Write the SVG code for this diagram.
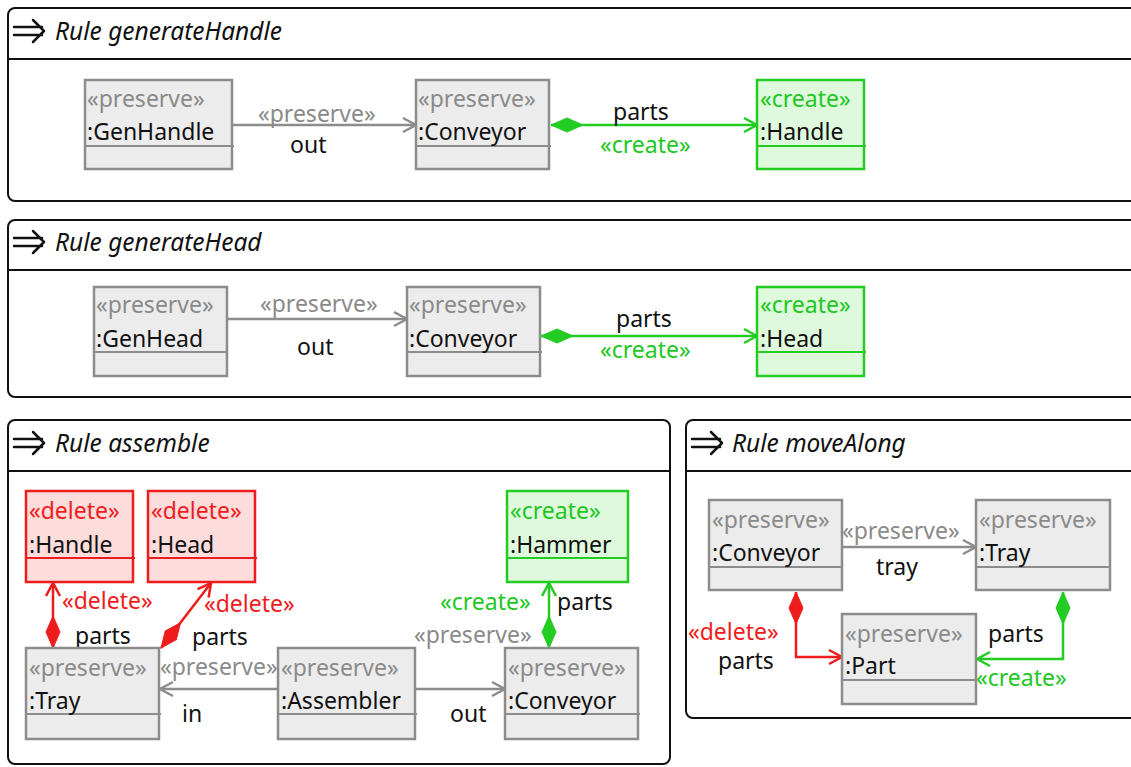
<svg xmlns="http://www.w3.org/2000/svg" width="1131" height="767" viewBox="0 0 1131 767">
<defs>
<style>
text{font-family:"Noto Sans","Open Sans","DejaVu Sans",sans-serif;font-size:23px;}
.title{font-style:italic;font-size:24.5px;fill:#111;}
.frame{fill:#fff;stroke:#111;stroke-width:2;}
.hdr{stroke:#111;stroke-width:2;}
.icon{fill:none;stroke:#111;stroke-width:2.5;stroke-linecap:round;stroke-linejoin:round;}
.pres rect{fill:#ececec;stroke:#8c8c8c;stroke-width:2.5;}
.pres line{stroke:#8c8c8c;stroke-width:2;}
.cre rect{fill:#dff9dd;stroke:#22cc22;stroke-width:2.5;}
.cre line{stroke:#22cc22;stroke-width:2;}
.del rect{fill:#fddcdc;stroke:#ee1c1c;stroke-width:2.5;}
.del line{stroke:#ee1c1c;stroke-width:2;}
.sg{fill:#8a8a8a;}
.sc{fill:#1ec81e;}
.sd{fill:#f01c1c;}
.nm{fill:#111;}
.eg{fill:none;stroke:#8c8c8c;stroke-width:2.5;marker-end:url(#agray);}
.ec{fill:none;stroke:#22cc22;stroke-width:2.5;marker-end:url(#agreen);marker-start:url(#dgreen);}
.ed{fill:none;stroke:#ee1c1c;stroke-width:2.5;marker-end:url(#ared);marker-start:url(#dred);}
</style>
<marker id="agray" markerUnits="userSpaceOnUse" markerWidth="20" markerHeight="20" viewBox="-16 -10 20 20" refX="0" refY="0" orient="auto"><path d="M-13,-7 L0,0 L-13,7" fill="none" stroke="#8c8c8c" stroke-width="2.5"/></marker>
<marker id="agreen" markerUnits="userSpaceOnUse" markerWidth="20" markerHeight="20" viewBox="-16 -10 20 20" refX="0" refY="0" orient="auto"><path d="M-13,-7 L0,0 L-13,7" fill="none" stroke="#22cc22" stroke-width="2.5"/></marker>
<marker id="ared" markerUnits="userSpaceOnUse" markerWidth="20" markerHeight="20" viewBox="-16 -10 20 20" refX="0" refY="0" orient="auto"><path d="M-13,-7 L0,0 L-13,7" fill="none" stroke="#ee1c1c" stroke-width="2.5"/></marker>
<marker id="dgreen" markerUnits="userSpaceOnUse" markerWidth="36" markerHeight="20" viewBox="-2 -10 36 20" refX="0" refY="0" orient="auto"><path d="M0,0 L16,-7 L32,0 L16,7 Z" fill="#22cc22" stroke="#22cc22" stroke-width="1"/></marker>
<marker id="dred" markerUnits="userSpaceOnUse" markerWidth="36" markerHeight="20" viewBox="-2 -10 36 20" refX="0" refY="0" orient="auto"><path d="M0,0 L16,-7 L32,0 L16,7 Z" fill="#ee1c1c" stroke="#ee1c1c" stroke-width="1"/></marker>
</defs>
<rect width="1131" height="767" fill="#fff"/>

<!-- Frames -->
<g id="frame-generateHandle">
<rect class="frame" x="8" y="8" width="1135" height="193" rx="7"/>
<line class="hdr" x1="8" y1="59" x2="1140" y2="59"/>
<path class="icon" d="M14,27 H42 M14,35 H42 M33,20 L44,31 L33,42"/>
<text class="title" x="55" y="40">Rule generateHandle</text>
</g>
<g id="frame-generateHead">
<rect class="frame" x="8" y="220" width="1135" height="177" rx="7"/>
<line class="hdr" x1="8" y1="270" x2="1140" y2="270"/>
<path class="icon" d="M14,238 H42 M14,246 H42 M33,231 L44,242 L33,253"/>
<text class="title" x="55" y="251">Rule generateHead</text>
</g>
<g id="frame-assemble">
<rect class="frame" x="8" y="420" width="662" height="344" rx="7"/>
<line class="hdr" x1="8" y1="471" x2="670" y2="471"/>
<path class="icon" d="M14,439 H42 M14,447 H42 M33,432 L44,443 L33,454"/>
<text class="title" x="55" y="452">Rule assemble</text>
</g>
<g id="frame-moveAlong">
<rect class="frame" x="686" y="420" width="460" height="298" rx="7"/>
<line class="hdr" x1="686" y1="471" x2="1140" y2="471"/>
<path class="icon" d="M692,439 H720 M692,447 H720 M711,432 L722,443 L711,454"/>
<text class="title" x="732" y="452">Rule moveAlong</text>
</g>

<!-- Connectors -->
<g id="connectors">
<!-- generateHandle -->
<path class="eg" d="M232,125 H416"/>
<text class="sg" x="258" y="122">«preserve»</text>
<text class="nm" x="290" y="153">out</text>
<path class="ec" d="M551,125 H757"/>
<text class="nm" x="613" y="120">parts</text>
<text class="sc" x="600" y="153">«create»</text>
<!-- generateHead -->
<path class="eg" d="M227,319 H407"/>
<text class="sg" x="260" y="312">«preserve»</text>
<text class="nm" x="297" y="355">out</text>
<path class="ec" d="M541,336 H757"/>
<text class="nm" x="616" y="327">parts</text>
<text class="sc" x="600" y="358">«create»</text>
<!-- assemble -->
<path class="ed" d="M53,648 V583"/>
<text class="sd" x="62" y="609">«delete»</text>
<text class="nm" x="75" y="644">parts</text>
<path class="ed" d="M161,648 L211,583"/>
<text class="sd" x="204" y="612">«delete»</text>
<text class="nm" x="192" y="645">parts</text>
<path class="eg" d="M278,689 H160"/>
<text class="sg" x="160" y="675">«preserve»</text>
<text class="nm" x="182" y="722">in</text>
<path class="eg" d="M416,689 H505"/>
<text class="sg" x="414" y="643">«preserve»</text>
<text class="nm" x="450" y="722">out</text>
<path class="ec" d="M549,648 V583"/>
<text class="sc" x="440" y="610">«create»</text>
<text class="nm" x="557" y="610">parts</text>
<!-- moveAlong -->
<path class="eg" d="M842,547 H976"/>
<text class="sg" x="842" y="539">«preserve»</text>
<text class="nm" x="876" y="575">tray</text>
<path class="ed" d="M796,592 V657 H842"/>
<text class="sd" x="688" y="640">«delete»</text>
<text class="nm" x="718" y="669">parts</text>
<path class="ec" d="M1063,592 V659 H977"/>
<text class="nm" x="988" y="642">parts</text>
<text class="sc" x="976" y="686">«create»</text>
</g>

<!-- Nodes: generateHandle -->
<g id="gh-GenHandle" class="pres">
<rect x="85" y="80" width="147" height="89"/><line x1="85" y1="146" x2="234" y2="146"/>
<text class="sg" x="87" y="107">«preserve»</text><text class="nm" x="87" y="140">:GenHandle</text>
</g>
<g id="gh-Conveyor" class="pres">
<rect x="416" y="80" width="133" height="89"/><line x1="416" y1="146" x2="551" y2="146"/>
<text class="sg" x="418" y="107">«preserve»</text><text class="nm" x="418" y="140">:Conveyor</text>
</g>
<g id="gh-Handle" class="cre">
<rect x="757" y="80" width="107" height="89"/><line x1="757" y1="146" x2="866" y2="146"/>
<text class="sc" x="760" y="107">«create»</text><text class="nm" x="760" y="140">:Handle</text>
</g>

<!-- Nodes: generateHead -->
<g id="ghd-GenHead" class="pres">
<rect x="94" y="287" width="133" height="89"/><line x1="94" y1="352" x2="227" y2="352"/>
<text class="sg" x="96" y="313">«preserve»</text><text class="nm" x="96" y="347">:GenHead</text>
</g>
<g id="ghd-Conveyor" class="pres">
<rect x="407" y="287" width="133" height="89"/><line x1="407" y1="352" x2="542" y2="352"/>
<text class="sg" x="409" y="313">«preserve»</text><text class="nm" x="409" y="347">:Conveyor</text>
</g>
<g id="ghd-Head" class="cre">
<rect x="757" y="287" width="107" height="89"/><line x1="757" y1="352" x2="866" y2="352"/>
<text class="sc" x="760" y="313">«create»</text><text class="nm" x="760" y="347">:Head</text>
</g>

<!-- Nodes: assemble -->
<g id="as-Handle" class="del">
<rect x="26" y="491" width="107" height="91"/><line x1="26" y1="558" x2="135" y2="558"/>
<text class="sd" x="29" y="519">«delete»</text><text class="nm" x="29" y="553">:Handle</text>
</g>
<g id="as-Head" class="del">
<rect x="148" y="491" width="107" height="91"/><line x1="148" y1="558" x2="257" y2="558"/>
<text class="sd" x="151" y="519">«delete»</text><text class="nm" x="151" y="553">:Head</text>
</g>
<g id="as-Hammer" class="cre">
<rect x="507" y="491" width="121" height="91"/><line x1="507" y1="558" x2="628" y2="558"/>
<text class="sc" x="510" y="519">«create»</text><text class="nm" x="510" y="553">:Hammer</text>
</g>
<g id="as-Tray" class="pres">
<rect x="26" y="648" width="133" height="91"/><line x1="26" y1="714" x2="161" y2="714"/>
<text class="sg" x="29" y="676">«preserve»</text><text class="nm" x="29" y="709">:Tray</text>
</g>
<g id="as-Assembler" class="pres">
<rect x="278" y="648" width="137" height="91"/><line x1="278" y1="714" x2="417" y2="714"/>
<text class="sg" x="281" y="676">«preserve»</text><text class="nm" x="281" y="709">:Assembler</text>
</g>
<g id="as-Conveyor" class="pres">
<rect x="505" y="648" width="133" height="91"/><line x1="505" y1="714" x2="640" y2="714"/>
<text class="sg" x="508" y="676">«preserve»</text><text class="nm" x="508" y="709">:Conveyor</text>
</g>

<!-- Nodes: moveAlong -->
<g id="ma-Conveyor" class="pres">
<rect x="709" y="500" width="133" height="90"/><line x1="709" y1="567" x2="842" y2="567"/>
<text class="sg" x="712" y="528">«preserve»</text><text class="nm" x="712" y="561">:Conveyor</text>
</g>
<g id="ma-Tray" class="pres">
<rect x="976" y="500" width="134" height="90"/><line x1="976" y1="567" x2="1110" y2="567"/>
<text class="sg" x="979" y="528">«preserve»</text><text class="nm" x="979" y="561">:Tray</text>
</g>
<g id="ma-Part" class="pres">
<rect x="842" y="614" width="134" height="90"/><line x1="842" y1="680" x2="976" y2="680"/>
<text class="sg" x="845" y="642">«preserve»</text><text class="nm" x="845" y="674">:Part</text>
</g>
</svg>
